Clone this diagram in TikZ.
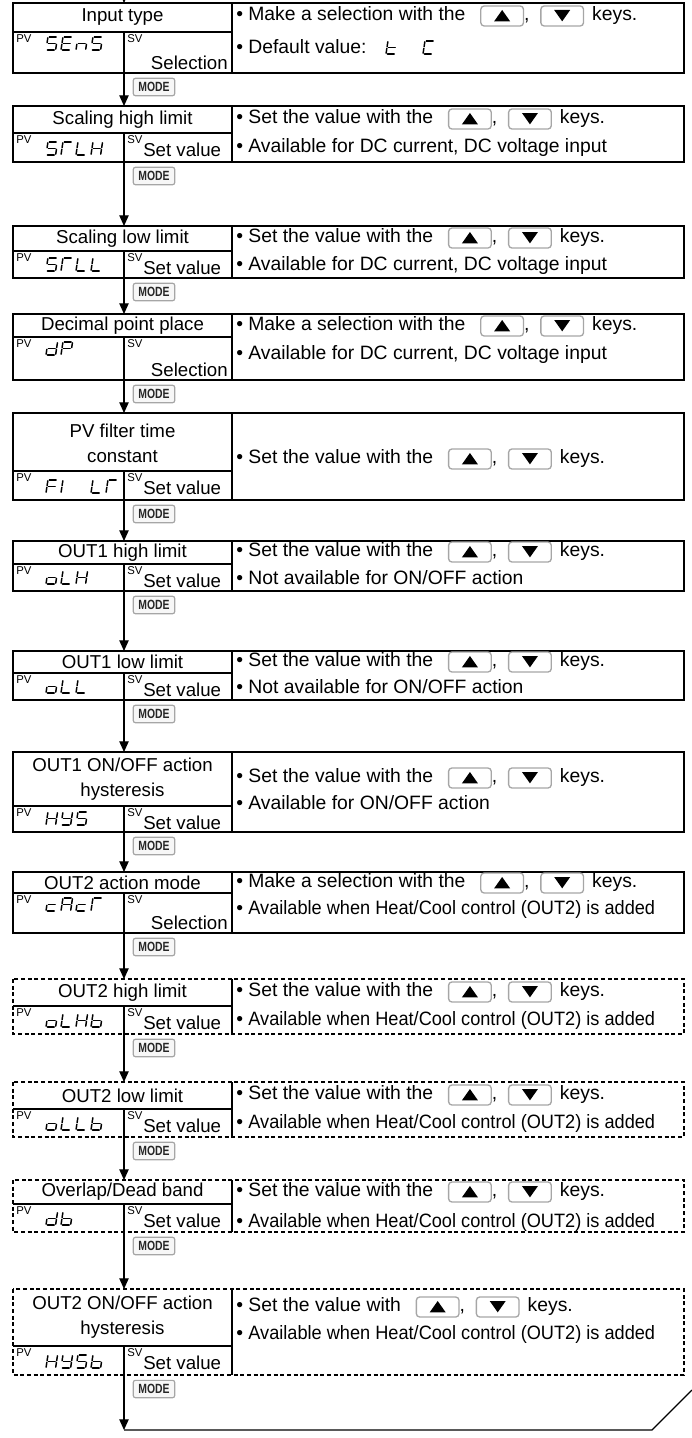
\documentclass[tikz,border=0pt]{standalone}
\usepackage{fontspec}
\setmainfont{Liberation Sans}
\usetikzlibrary{arrows.meta}

\tikzset{
  box/.style={draw,line width=0.9pt},
  optbox/.style={draw,line width=0.9pt,dash pattern=on 3pt off 2pt},
  cell/.style={line width=0.9pt},
  flow/.style={line width=0.9pt,-{Triangle[length=8pt,width=7pt]}},
  seg/.style={line width=1.1pt,line cap=round},
  keyframe/.style={draw=gray!70,line width=1pt,rounded corners=2.5pt},
  modekey/.style={draw=gray!70,fill=gray!6,rounded corners=1.5pt,line width=0.9pt,
    minimum width=31pt,minimum height=13pt,inner sep=0pt,text=black!85,
    font=\bfseries\fontsize{10}{10}\selectfont},
  ttl/.style={font=\fontsize{14}{19}\selectfont,inner sep=0pt,align=center},
  note/.style={font=\fontsize{14.5}{16}\selectfont,inner sep=0pt,anchor=west},
  tag/.style={font=\fontsize{8.5}{9}\selectfont,inner sep=0pt},
  val/.style={font=\fontsize{14}{15}\selectfont,inner sep=0pt}
}

% seven segment pieces, one cell is 1 wide and 2 high
\newcommand{\sega}{\draw[seg] (0.15,2) -- (0.85,2);}
\newcommand{\segb}{\draw[seg] (1,1.87) -- (1,1.13);}
\newcommand{\segc}{\draw[seg] (1,0.87) -- (1,0.13);}
\newcommand{\segd}{\draw[seg] (0.15,0) -- (0.85,0);}
\newcommand{\sege}{\draw[seg] (0,0.87) -- (0,0.13);}
\newcommand{\segf}{\draw[seg] (0,1.87) -- (0,1.13);}
\newcommand{\segg}{\draw[seg] (0.15,1) -- (0.85,1);}
\def\gS{a,f,g,c,d}\def\gE{a,f,g,e,d}\def\gn{e,g,c}\def\gT{a,f,e}
\def\gL{f,e,d}\def\gH{f,e,b,c,g}\def\gd{b,c,g,e,d}\def\gP{a,b,f,g,e}
\def\gF{a,f,g,e}\def\gI{f,e}\def\go{c,d,e,g}\def\gY{f,b,g,c,d}
\def\gc{g,e,d}\def\gA{a,b,c,e,f,g}\def\gb{f,e,d,c,g}\def\gt{f,e,g,d}
\def\gC{a,f,e,d}\def\gX{}
\newcommand{\segcell}[3]{%
  \begin{scope}[shift={(#1,#2)},x=7.2pt,y=4.9pt,xslant=0.15]
    \edef\seglist{#3}%
    \foreach \s in \seglist {\csname seg\s\endcsname}
  \end{scope}}
\newcommand{\segword}[3]{%
  \foreach \g [count=\i from 0] in {#3} {\segcell{#1+15*\i}{#2}{\csname g\g\endcsname}}}

% arrow keys
\newcommand{\upkey}{\tikz[x=1pt,y=1pt,baseline=0pt]{\draw[keyframe] (0,-4) rectangle (32,11);
  \fill (10,-0.5) -- (22,-0.5) -- (16,8) -- cycle;}}
\newcommand{\downkey}{\tikz[x=1pt,y=1pt,baseline=0pt]{\draw[keyframe] (0,-4) rectangle (32,11);
  \fill (10,8) -- (22,8) -- (16,-0.5) -- cycle;}}
\newcommand{\keypair}{\hspace{11pt}\upkey,\hspace{8pt}\downkey\hspace{6pt}keys.}
\newcommand{\narrow}[1]{\scalebox{0.94}[1]{#1}}

% frame of one setting: name, top, divider, bottom, outer style
\newcommand{\menubox}[5]{%
  \draw[#5] (13,#2) rectangle (684,#4);
  \draw[cell] (232,#2) -- (232,#4);
  \draw[cell] (13,#3) -- (232,#3);
  \draw[cell] (124,#3) -- (124,#4);
  \coordinate (#1top) at (124,#2);
  \coordinate (#1bot) at (124,#4);
  \node[tag,anchor=west] (#1pv) at (16,#3+7) {PV};
  \node[tag,anchor=west] (#1sv) at (127,#3+7) {SV};
  \node[modekey] (#1mode) at (154,#4+14) {\scalebox{0.78}[1]{MODE}};}
\newcommand{\valrow}[2]{\node[val,anchor=west] (#1val) at (143,#2+17) {Set value};}
\newcommand{\selrow}[2]{\node[val,anchor=east] (#1val) at (228,#2-10) {Selection};}

\begin{document}
\begin{tikzpicture}[x=0.75pt,y=-0.75pt]
\useasboundingbox (0,0) rectangle (692,1438);

% input type
\menubox{b1}{3}{32}{73}{box}
\node[ttl] (b1t) at (122.5,17.5) {Input type};
\segword{46}{50}{S,E,n,S}
\selrow{b1}{73}
\node[note] (b1n1) at (236,16) {\textbullet\ Make a selection with the\keypair};
\node[note] (b1n2) at (236,47) {\textbullet\ Default value:};
\segcell{386}{54}{\gt}
\segcell{423}{54}{\gC}

% scaling high limit
\menubox{b2}{106}{133}{162}{box}
\node[ttl] (b2t) at (122.5,119.5) {Scaling high limit};
\segword{46}{155}{S,T,L,H}
\valrow{b2}{133}
\node[note] (b2n1) at (236,119) {\textbullet\ Set the value with the\keypair};
\node[note] (b2n2) at (236,148) {\textbullet\ Available for DC current, DC voltage input};

% scaling low limit
\menubox{b3}{226}{251}{278}{box}
\node[ttl] (b3t) at (122.5,238.5) {Scaling low limit};
\segword{46}{271}{S,T,L,L}
\valrow{b3}{251}
\node[note] (b3n1) at (236,238) {\textbullet\ Set the value with the\keypair};
\node[note] (b3n2) at (236,265) {\textbullet\ Available for DC current, DC voltage input};

% decimal point place
\menubox{b4}{314}{337}{380}{box}
\node[ttl] (b4t) at (122.5,325.5) {Decimal point place};
\segword{46}{355}{d,P}
\selrow{b4}{380}
\node[note] (b4n1) at (236,326) {\textbullet\ Make a selection with the\keypair};
\node[note] (b4n2) at (236,354) {\textbullet\ Available for DC current, DC voltage input};

% PV filter time constant
\menubox{b5}{413}{471}{500}{box}
\node[ttl] (b5t) at (122.5,443) {PV filter time\\constant};
\segword{46}{493}{F,I,X,L,T}
\valrow{b5}{471}
\node[note] (b5n1) at (236,459) {\textbullet\ Set the value with the\keypair};

% OUT1 high limit
\menubox{b6}{541}{564}{591}{box}
\node[ttl] (b6t) at (122.5,552.5) {OUT1 high limit};
\segword{46}{584}{o,L,H}
\valrow{b6}{564}
\node[note] (b6n1) at (236,552) {\textbullet\ Set the value with the\keypair};
\node[note] (b6n2) at (236,578) {\textbullet\ Not available for ON/OFF action};

% OUT1 low limit
\menubox{b7}{651}{673}{700}{box}
\node[ttl] (b7t) at (122.5,662) {OUT1 low limit};
\segword{46}{693}{o,L,L}
\valrow{b7}{673}
\node[note] (b7n1) at (236,662) {\textbullet\ Set the value with the\keypair};
\node[note] (b7n2) at (236,687) {\textbullet\ Not available for ON/OFF action};

% OUT1 hysteresis
\menubox{b8}{752}{806}{832}{box}
\node[ttl] (b8t) at (122.5,779) {OUT1 ON/OFF action\\hysteresis};
\segword{46}{825}{H,Y,S}
\valrow{b8}{806}
\node[note] (b8n1) at (236,778) {\textbullet\ Set the value with the\keypair};
\node[note] (b8n2) at (236,803) {\textbullet\ Available for ON/OFF action};

% OUT2 action mode
\menubox{b9}{872}{893}{933}{box}
\node[ttl] (b9t) at (122.5,882.5) {OUT2 action mode};
\segword{46}{911}{c,A,c,T}
\selrow{b9}{933}
\node[note] (b9n1) at (236,883) {\textbullet\ Make a selection with the\keypair};
\node[note] (b9n2) at (236,909) {\textbullet\ \narrow{Available when Heat/Cool control (OUT2) is added}};

% OUT2 high limit
\menubox{b10}{979}{1006}{1034}{optbox}
\node[ttl] (b10t) at (122.5,992.5) {OUT2 high limit};
\segword{46}{1027}{o,L,H,b}
\valrow{b10}{1006}
\node[note] (b10n1) at (236,992) {\textbullet\ Set the value with the\keypair};
\node[note] (b10n2) at (236,1020) {\textbullet\ \narrow{Available when Heat/Cool control (OUT2) is added}};

% OUT2 low limit
\menubox{b11}{1082}{1109}{1137}{optbox}
\node[ttl] (b11t) at (122.5,1095.5) {OUT2 low limit};
\segword{46}{1130}{o,L,L,b}
\valrow{b11}{1109}
\node[note] (b11n1) at (236,1095) {\textbullet\ Set the value with the\keypair};
\node[note] (b11n2) at (236,1123) {\textbullet\ \narrow{Available when Heat/Cool control (OUT2) is added}};

% overlap / dead band
\menubox{b12}{1180}{1204}{1232}{optbox}
\node[ttl] (b12t) at (122.5,1192) {Overlap/Dead band};
\segword{46}{1225}{d,b}
\valrow{b12}{1204}
\node[note] (b12n1) at (236,1192) {\textbullet\ Set the value with the\keypair};
\node[note] (b12n2) at (236,1222) {\textbullet\ \narrow{Available when Heat/Cool control (OUT2) is added}};

% OUT2 hysteresis
\menubox{b13}{1289}{1346}{1375}{optbox}
\node[ttl] (b13t) at (122.5,1317) {OUT2 ON/OFF action\\hysteresis};
\segword{46}{1368}{H,Y,S,b}
\valrow{b13}{1346}
\node[note] (b13n1) at (236,1307) {\textbullet\ Set the value with\keypair};
\node[note] (b13n2) at (236,1334) {\textbullet\ \narrow{Available when Heat/Cool control (OUT2) is added}};

% connectors
\coordinate (entry) at (124,-8);
\coordinate (loop) at (124,1430);
\draw[flow] (entry) -- (b1top);
\draw[flow] (b1bot) -- (b2top);
\draw[flow] (b2bot) -- (b3top);
\draw[flow] (b3bot) -- (b4top);
\draw[flow] (b4bot) -- (b5top);
\draw[flow] (b5bot) -- (b6top);
\draw[flow] (b6bot) -- (b7top);
\draw[flow] (b7bot) -- (b8top);
\draw[flow] (b8bot) -- (b9top);
\draw[flow] (b9bot) -- (b10top);
\draw[flow] (b10bot) -- (b11top);
\draw[flow] (b11bot) -- (b12top);
\draw[flow] (b12bot) -- (b13top);
\draw[flow] (b13bot) -- (loop);
\draw[cell] (loop) -- (652,1430) -- (692,1390);

\end{tikzpicture}
\end{document}
